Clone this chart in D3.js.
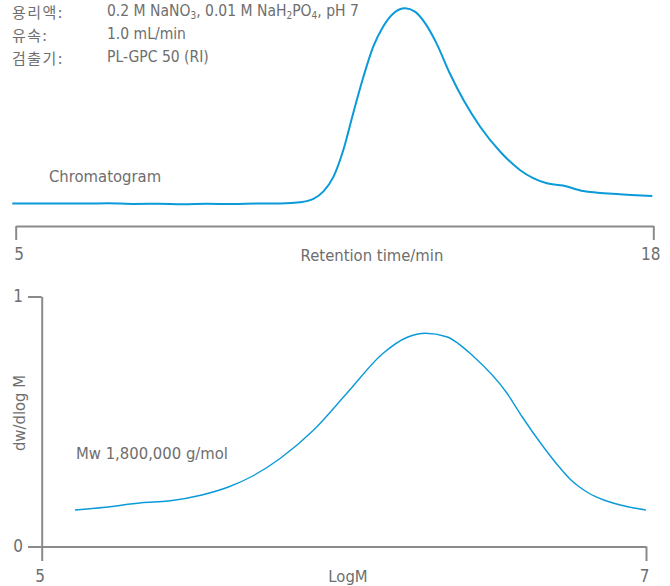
<!DOCTYPE html>
<html>
<head>
<meta charset="utf-8">
<script src="https://cdn.jsdelivr.net/npm/d3@7"></script>
<style>
  html, body { margin: 0; padding: 0; background: #fff; }
  svg { display: block; }
  text { font-family: "Liberation Sans Narrow", "DejaVu Sans Condensed", "Noto Sans CJK KR", sans-serif; fill: #6e6e6e; }
  .ko { font-family: "Noto Sans CJK KR", "Liberation Sans Narrow", sans-serif; }
</style>
</head>
<body>
<script>
// Chromatogram: retention time (min) vs RI detector response (peak = 100)
const chromTime = [4.93, 5.4, 5.9, 6.4, 6.9, 7.4, 7.9, 8.4, 8.9, 9.4, 9.9, 10.4,
  10.8, 11.07, 11.27, 11.48, 11.68, 11.88, 12.09, 12.29, 12.49, 12.70, 12.94, 13.14,
  13.35, 13.58, 13.85, 14.13, 14.47, 14.88, 15.28, 15.83, 16.16, 16.57, 17.25, 17.98];
const chromSignal = [0.3, 0.2, 0.3, 0.2, 0.4, 0.0, 0.1, -0.1, 0.1, 0.0, 0.2, 0.3,
  0.9, 2.6, 6.3, 14.0, 27.6, 46.3, 65.0, 80.4, 90.6, 97.4, 100, 98.3,
  92.3, 82.1, 66.8, 53.1, 39.5, 26.7, 17.4, 10.6, 9.4, 6.6, 5.1, 4.1];

// Molecular weight distribution: log M vs dw/dlog M
const logM = [5.11, 5.21, 5.33, 5.42, 5.53, 5.62, 5.70, 5.79, 5.90, 6.01, 6.13,
  6.21, 6.27, 6.34, 6.43, 6.54, 6.59, 6.66, 6.71, 6.75, 6.78, 6.81, 6.86, 6.94, 7.0];
const dwdlogM = [0.146, 0.157, 0.175, 0.182, 0.206, 0.239, 0.283, 0.353, 0.466, 0.613, 0.773,
  0.837, 0.853, 0.839, 0.759, 0.613, 0.519, 0.399, 0.322, 0.268, 0.238, 0.214, 0.186, 0.159, 0.146];

const timeTicks = [5, 18];
const logMTicks = [5, 7];
const distTicks = [0, 1];

const conditionLabels = ["용리액:", "유속:", "검출기:"];

const W = 670, H = 586;
const blue = "#0a9ad9";
const axisGrey = "#8a8a8a";

const svg = d3.select("body").append("svg").attr("width", W).attr("height", H);

// ---- Conditions block ----
const condY = [15.5, 38.5, 61.5];
svg.selectAll("text.cond").data(conditionLabels).join("text")
  .attr("class", "cond ko")
  .attr("x", 12).attr("y", (d, i) => condY[i] + 2)
  .attr("font-size", 15).attr("letter-spacing", 1.5)
  .text(d => d);

const v1 = svg.append("text").attr("x", 107).attr("y", condY[0]).attr("font-size", 15.5);
v1.append("tspan").text("0.2 M NaNO");
v1.append("tspan").attr("font-size", 10).attr("dy", 3).text("3");
v1.append("tspan").attr("dy", -3).text(", 0.01 M NaH");
v1.append("tspan").attr("font-size", 10).attr("dy", 3).text("2");
v1.append("tspan").attr("dy", -3).text("PO");
v1.append("tspan").attr("font-size", 10).attr("dy", 3).text("4");
v1.append("tspan").attr("dy", -3).text(", pH 7");
svg.append("text").attr("x", 107).attr("y", condY[1]).attr("font-size", 15.5).text("1.0 mL/min");
svg.append("text").attr("x", 107).attr("y", condY[2]).attr("font-size", 15.5).text("PL-GPC 50 (RI)");

// ---- Chromatogram ----
const xT = d3.scaleLinear().domain([5, 18]).range([15.7, 653.3]);
const yT = d3.scaleLinear().domain([0, 100]).range([204, 8.3]);

svg.append("path")
  .datum(chromTime.map((t, i) => [t, chromSignal[i]]))
  .attr("fill", "none").attr("stroke", blue).attr("stroke-width", 2)
  .attr("stroke-linejoin", "round")
  .attr("d", d3.line().x(d => xT(d[0])).y(d => yT(d[1])).curve(d3.curveMonotoneX));

svg.append("text").attr("x", 49).attr("y", 182).attr("font-size", 16.5).text("Chromatogram");

const axT = svg.append("g").attr("transform", "translate(0,226)")
  .call(d3.axisBottom(xT).tickValues(timeTicks).tickSize(14).tickSizeOuter(0).tickPadding(8).tickFormat(d3.format("d")));
axT.select(".domain").attr("stroke", axisGrey).attr("stroke-width", 2);
axT.selectAll(".tick line").attr("stroke", axisGrey).attr("stroke-width", 2);
axT.selectAll(".tick text").attr("font-size", 17).attr("fill", "#6e6e6e")
  .attr("dx", d => d === 5 ? 3 : -3);

svg.append("text").attr("x", 372).attr("y", 261).attr("text-anchor", "middle")
  .attr("font-size", 16.5).text("Retention time/min");

// ---- Molecular weight distribution ----
const xM = d3.scaleLinear().domain([5, 7]).range([41.7, 646]);
const yM = d3.scaleLinear().domain([0, 1]).range([546.5, 296.5]);

svg.append("path")
  .datum(logM.map((m, i) => [m, dwdlogM[i]]))
  .attr("fill", "none").attr("stroke", blue).attr("stroke-width", 1.4)
  .attr("d", d3.line().x(d => xM(d[0])).y(d => yM(d[1])).curve(d3.curveMonotoneX));

const axX = svg.append("g").attr("transform", "translate(0,546.5)")
  .call(d3.axisBottom(xM).tickValues(logMTicks).tickSize(14.5).tickSizeOuter(0).tickPadding(9).tickFormat(d3.format("d")));
axX.select(".domain").attr("stroke", axisGrey).attr("stroke-width", 2);
axX.selectAll(".tick line").attr("stroke", axisGrey).attr("stroke-width", 2);
axX.selectAll(".tick text").attr("font-size", 17).attr("fill", "#6e6e6e").attr("dx", -2);

const axY = svg.append("g").attr("transform", "translate(41.7,0)")
  .call(d3.axisLeft(yM).tickValues(distTicks).tickSize(13.7).tickSizeOuter(0).tickPadding(5).tickFormat(d3.format("d")));
axY.select(".domain").attr("stroke", axisGrey).attr("stroke-width", 2);
axY.selectAll(".tick line").attr("stroke", axisGrey).attr("stroke-width", 2);
axY.selectAll(".tick text").attr("font-size", 17).attr("fill", "#6e6e6e");

svg.append("text").attr("x", 348).attr("y", 582).attr("text-anchor", "middle")
  .attr("font-size", 16.5).text("LogM");

svg.append("text").attr("transform", "translate(25,413) rotate(-90)")
  .attr("text-anchor", "middle").attr("font-size", 16.5).text("dw/dlog M");

svg.append("text").attr("x", 76).attr("y", 459).attr("font-size", 16.5).text("Mw 1,800,000 g/mol");
</script>
</body>
</html>
